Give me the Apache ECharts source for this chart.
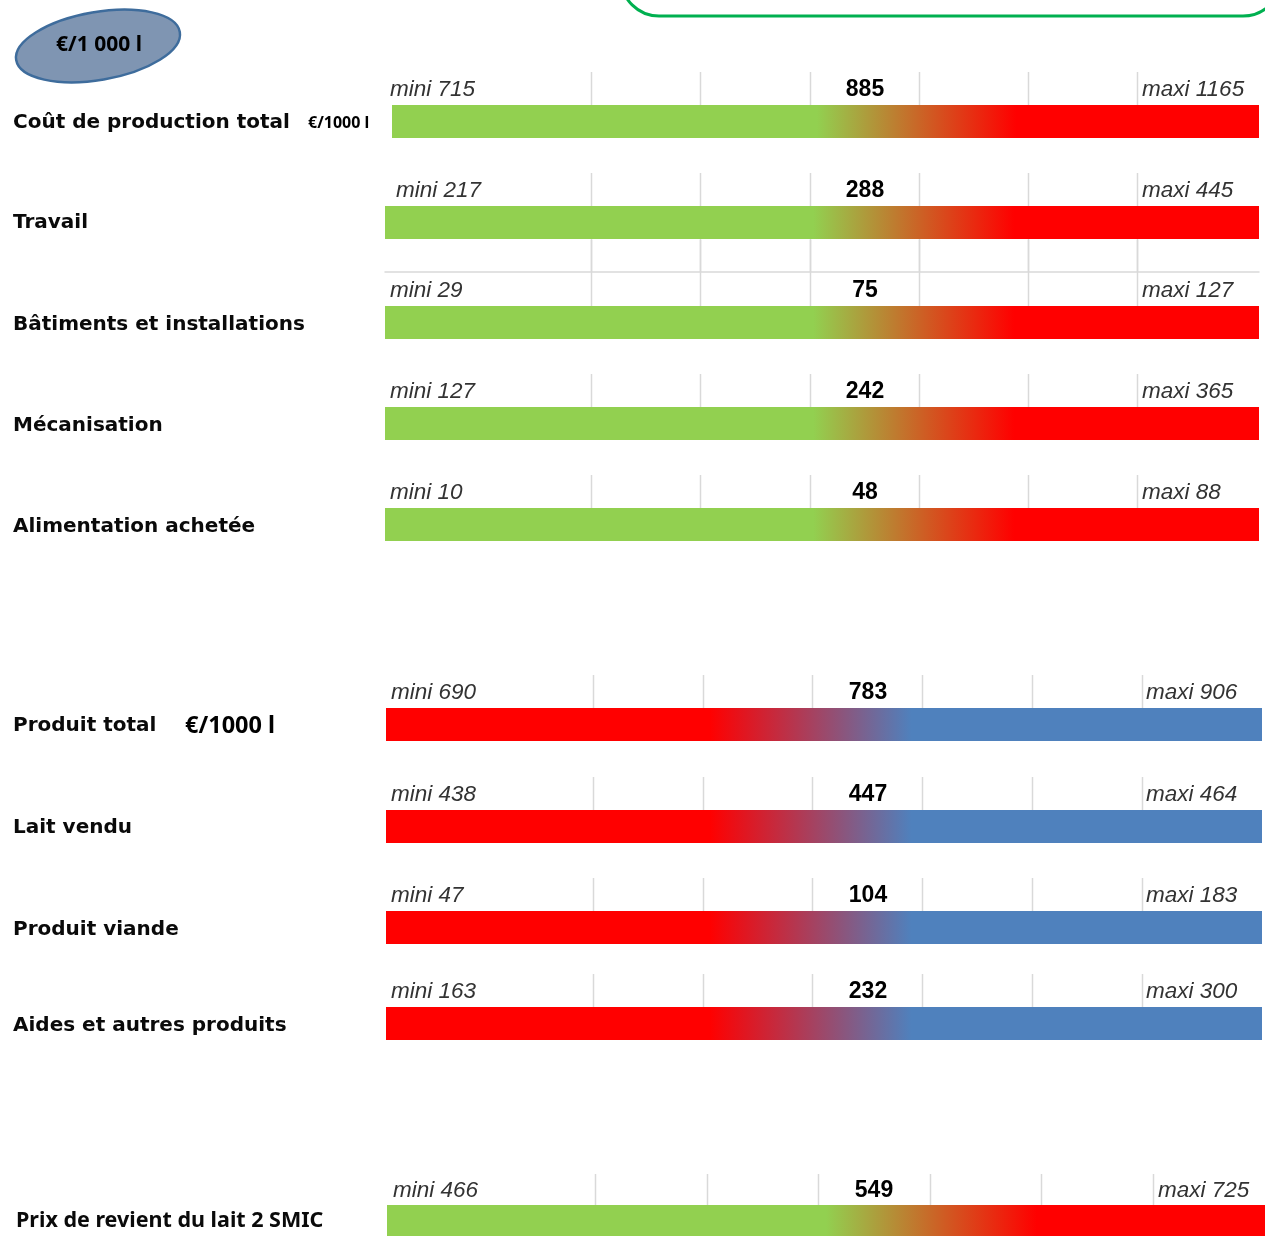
<!DOCTYPE html>
<html>
<head>
<meta charset="utf-8">
<script src="https://cdn.jsdelivr.net/npm/echarts@6/dist/echarts.min.js"></script>
<style>
html,body{margin:0;padding:0;background:#fff;}
#chart{width:1265px;height:1236px;}
</style>
</head>
<body>
<div id="chart"></div>
<script>
// ---- data ----
const rowLabels = ['Coût de production total', 'Travail', 'Bâtiments et installations', 'Mécanisation', 'Alimentation achetée',
  'Produit total', 'Lait vendu', 'Produit viande', 'Aides et autres produits', 'Prix de revient du lait 2 SMIC'];
const miniValues = [715, 217, 29, 127, 10, 690, 438, 47, 163, 466];
const medianValues = [885, 288, 75, 242, 48, 783, 447, 104, 232, 549];
const maxiValues = [1165, 445, 127, 365, 88, 906, 464, 183, 300, 725];
const unitBadge = '€/1 000 l';
const unitCost = '€/1000 l';
const unitProduct = '€/1000 l';

// ---- layout / style ----
const linesA = [591, 700, 810, 919, 1028, 1137];
const linesB = [593, 703, 812, 922, 1032, 1142];
const linesC = [595, 707, 818, 930, 1041, 1153];
const schemes = {
  cost: { from: '#92D050', to: '#FF0000', s0: 0.49, s1: 0.72 },
  prod: { from: '#FF0000', to: '#4F81BD', s0: 0.37, s1: 0.60 },
  price: { from: '#92D050', to: '#FF0000', s0: 0.50, s1: 0.74 }
};
const layout = [
  { left: 392, right: 1259, top: 72, bands: 2, barBand: 0, lines: linesA, miniX: 390, medX: 865, maxX: 1142, labelY: 123, scheme: 'cost' },
  { left: 385, right: 1259, top: 173, bands: 3, barBand: 1, lines: linesA, miniX: 396, medX: 865, maxX: 1142, labelY: 223, scheme: 'cost', axisLine: true },
  { left: 385, right: 1259, top: 240, bands: 3, barBand: 0, lines: linesA, miniX: 390, medX: 865, maxX: 1142, labelY: 325, scheme: 'cost' },
  { left: 385, right: 1259, top: 374, bands: 2, barBand: 0, lines: linesA, miniX: 390, medX: 865, maxX: 1142, labelY: 426, scheme: 'cost' },
  { left: 385, right: 1259, top: 475, bands: 2, barBand: 0, lines: linesA, miniX: 390, medX: 865, maxX: 1142, labelY: 527, scheme: 'cost' },
  { left: 386, right: 1262, top: 675, bands: 2, barBand: 0, lines: linesB, miniX: 391, medX: 868, maxX: 1146, labelY: 726, scheme: 'prod' },
  { left: 386, right: 1262, top: 777, bands: 2, barBand: 0, lines: linesB, miniX: 391, medX: 868, maxX: 1146, labelY: 828, scheme: 'prod' },
  { left: 386, right: 1262, top: 878, bands: 2, barBand: 0, lines: linesB, miniX: 391, medX: 868, maxX: 1146, labelY: 930, scheme: 'prod' },
  { left: 386, right: 1262, top: 974, bands: 2, barBand: 0, lines: linesB, miniX: 391, medX: 868, maxX: 1146, labelY: 1026, scheme: 'prod' },
  { left: 387, right: 1265, top: 1174, bands: 2, barBand: 0, lines: linesC, miniX: 393, medX: 874, maxX: 1158, labelY: 1221, scheme: 'price' }
];
const BAND = 33;
const gridColor = '#D9D9D9';

const chart = echarts.init(document.getElementById('chart'), null, { renderer: 'canvas' });

function renderRow(r) {
  const L = layout[r];
  const sc = schemes[L.scheme];
  return function (params, api) {
    const mini = api.value(0), maxi = api.value(1), med = api.value(2);
    const toVal = px => mini + (px - L.left) / (L.right - L.left) * (maxi - mini);
    const children = [];
    const yTop = api.coord([mini, L.bands])[1];
    const yBot = api.coord([mini, 0])[1];
    L.lines.forEach(px => {
      const x = Math.round(api.coord([toVal(px), 0])[0]) + 0.5;
      children.push({ type: 'line', shape: { x1: x, y1: yTop, x2: x, y2: yBot },
        style: { stroke: gridColor, lineWidth: 1.5 } });
    });
    const p0 = api.coord([mini, L.barBand + 1]);
    const p1 = api.coord([maxi, L.barBand]);
    children.push({ type: 'rect', shape: { x: p0[0], y: p0[1], width: p1[0] - p0[0], height: p1[1] - p0[1] },
      style: { fill: new echarts.graphic.LinearGradient(0, 0, 1, 0, [
        { offset: 0, color: sc.from }, { offset: sc.s0, color: sc.from },
        { offset: sc.s1, color: sc.to }, { offset: 1, color: sc.to }]) } });
    const ty = api.coord([mini, L.barBand + 1.45])[1];
    children.push({ type: 'text', x: api.coord([toVal(L.miniX), 0])[0], y: ty,
      style: { text: 'mini ' + mini, fontStyle: 'italic', fontSize: 22.5, fontFamily: 'Liberation Sans', fill: '#333', align: 'left', verticalAlign: 'middle' } });
    children.push({ type: 'text', x: api.coord([toVal(L.medX), 0])[0], y: ty,
      style: { text: String(med), fontWeight: 'bold', fontSize: 23, fontFamily: 'Liberation Sans', fill: '#000', align: 'center', verticalAlign: 'middle' } });
    children.push({ type: 'text', x: api.coord([toVal(L.maxX), 0])[0], y: ty,
      style: { text: 'maxi ' + maxi, fontStyle: 'italic', fontSize: 22.5, fontFamily: 'Liberation Sans', fill: '#333', align: 'left', verticalAlign: 'middle' } });
    return { type: 'group', children };
  };
}

const grids = [], xAxes = [], yAxes = [], series = [];
layout.forEach((L, r) => {
  grids.push({ left: L.left, top: L.top, width: L.right - L.left, height: L.bands * BAND, containLabel: false });
  xAxes.push({ type: 'value', gridIndex: r, min: miniValues[r], max: maxiValues[r], show: !!L.axisLine,
    axisLine: { show: !!L.axisLine, onZero: false, lineStyle: { color: gridColor, width: 1.5 } },
    axisTick: { show: false }, axisLabel: { show: false }, splitLine: { show: false } });
  yAxes.push({ type: 'value', gridIndex: r, min: 0, max: L.bands, show: false, splitLine: { show: false } });
  series.push({ type: 'custom', xAxisIndex: r, yAxisIndex: r, clip: false, silent: true,
    encode: { x: [0, 1], y: 2 },
    data: [[miniValues[r], maxiValues[r], medianValues[r]]], renderItem: renderRow(r) });
});

const graphics = [
  { type: 'rect', shape: { x: 621, y: -80, width: 660, height: 96, r: 38 },
    style: { fill: 'none', stroke: '#00B050', lineWidth: 3 } },
  { type: 'ellipse', x: 98, y: 46, rotation: 0.17, shape: { cx: 0, cy: 0, rx: 83, ry: 34 },
    style: { fill: '#7F95B2', stroke: '#3E6C9C', lineWidth: 2.5 } },
  { type: 'text', x: 99, y: 45, style: { text: unitBadge, font: 'bold 21px "Noto Sans"', fill: '#000', align: 'center', verticalAlign: 'middle' } },
  { type: 'text', x: 308, y: 123, style: { text: unitCost, font: 'bold 16px "Noto Sans"', fill: '#000', align: 'left', verticalAlign: 'middle' } },
  { type: 'text', x: 185, y: 726, style: { text: unitProduct, font: 'bold 23.5px "Noto Sans"', fill: '#000', align: 'left', verticalAlign: 'middle' } }
];
layout.forEach((L, r) => {
  const last = r === layout.length - 1;
  graphics.push({ type: 'text', x: last ? 16 : 13, y: L.labelY,
    style: { text: rowLabels[r], font: last ? 'bold 21.5px "Noto Sans"' : 'bold 20px "DejaVu Sans"', fill: '#0a0a0a', align: 'left', verticalAlign: 'middle' } });
});

chart.setOption({
  backgroundColor: '#fff',
  animation: false,
  grid: grids, xAxis: xAxes, yAxis: yAxes, series: series,
  graphic: graphics
});
</script>
</body>
</html>
